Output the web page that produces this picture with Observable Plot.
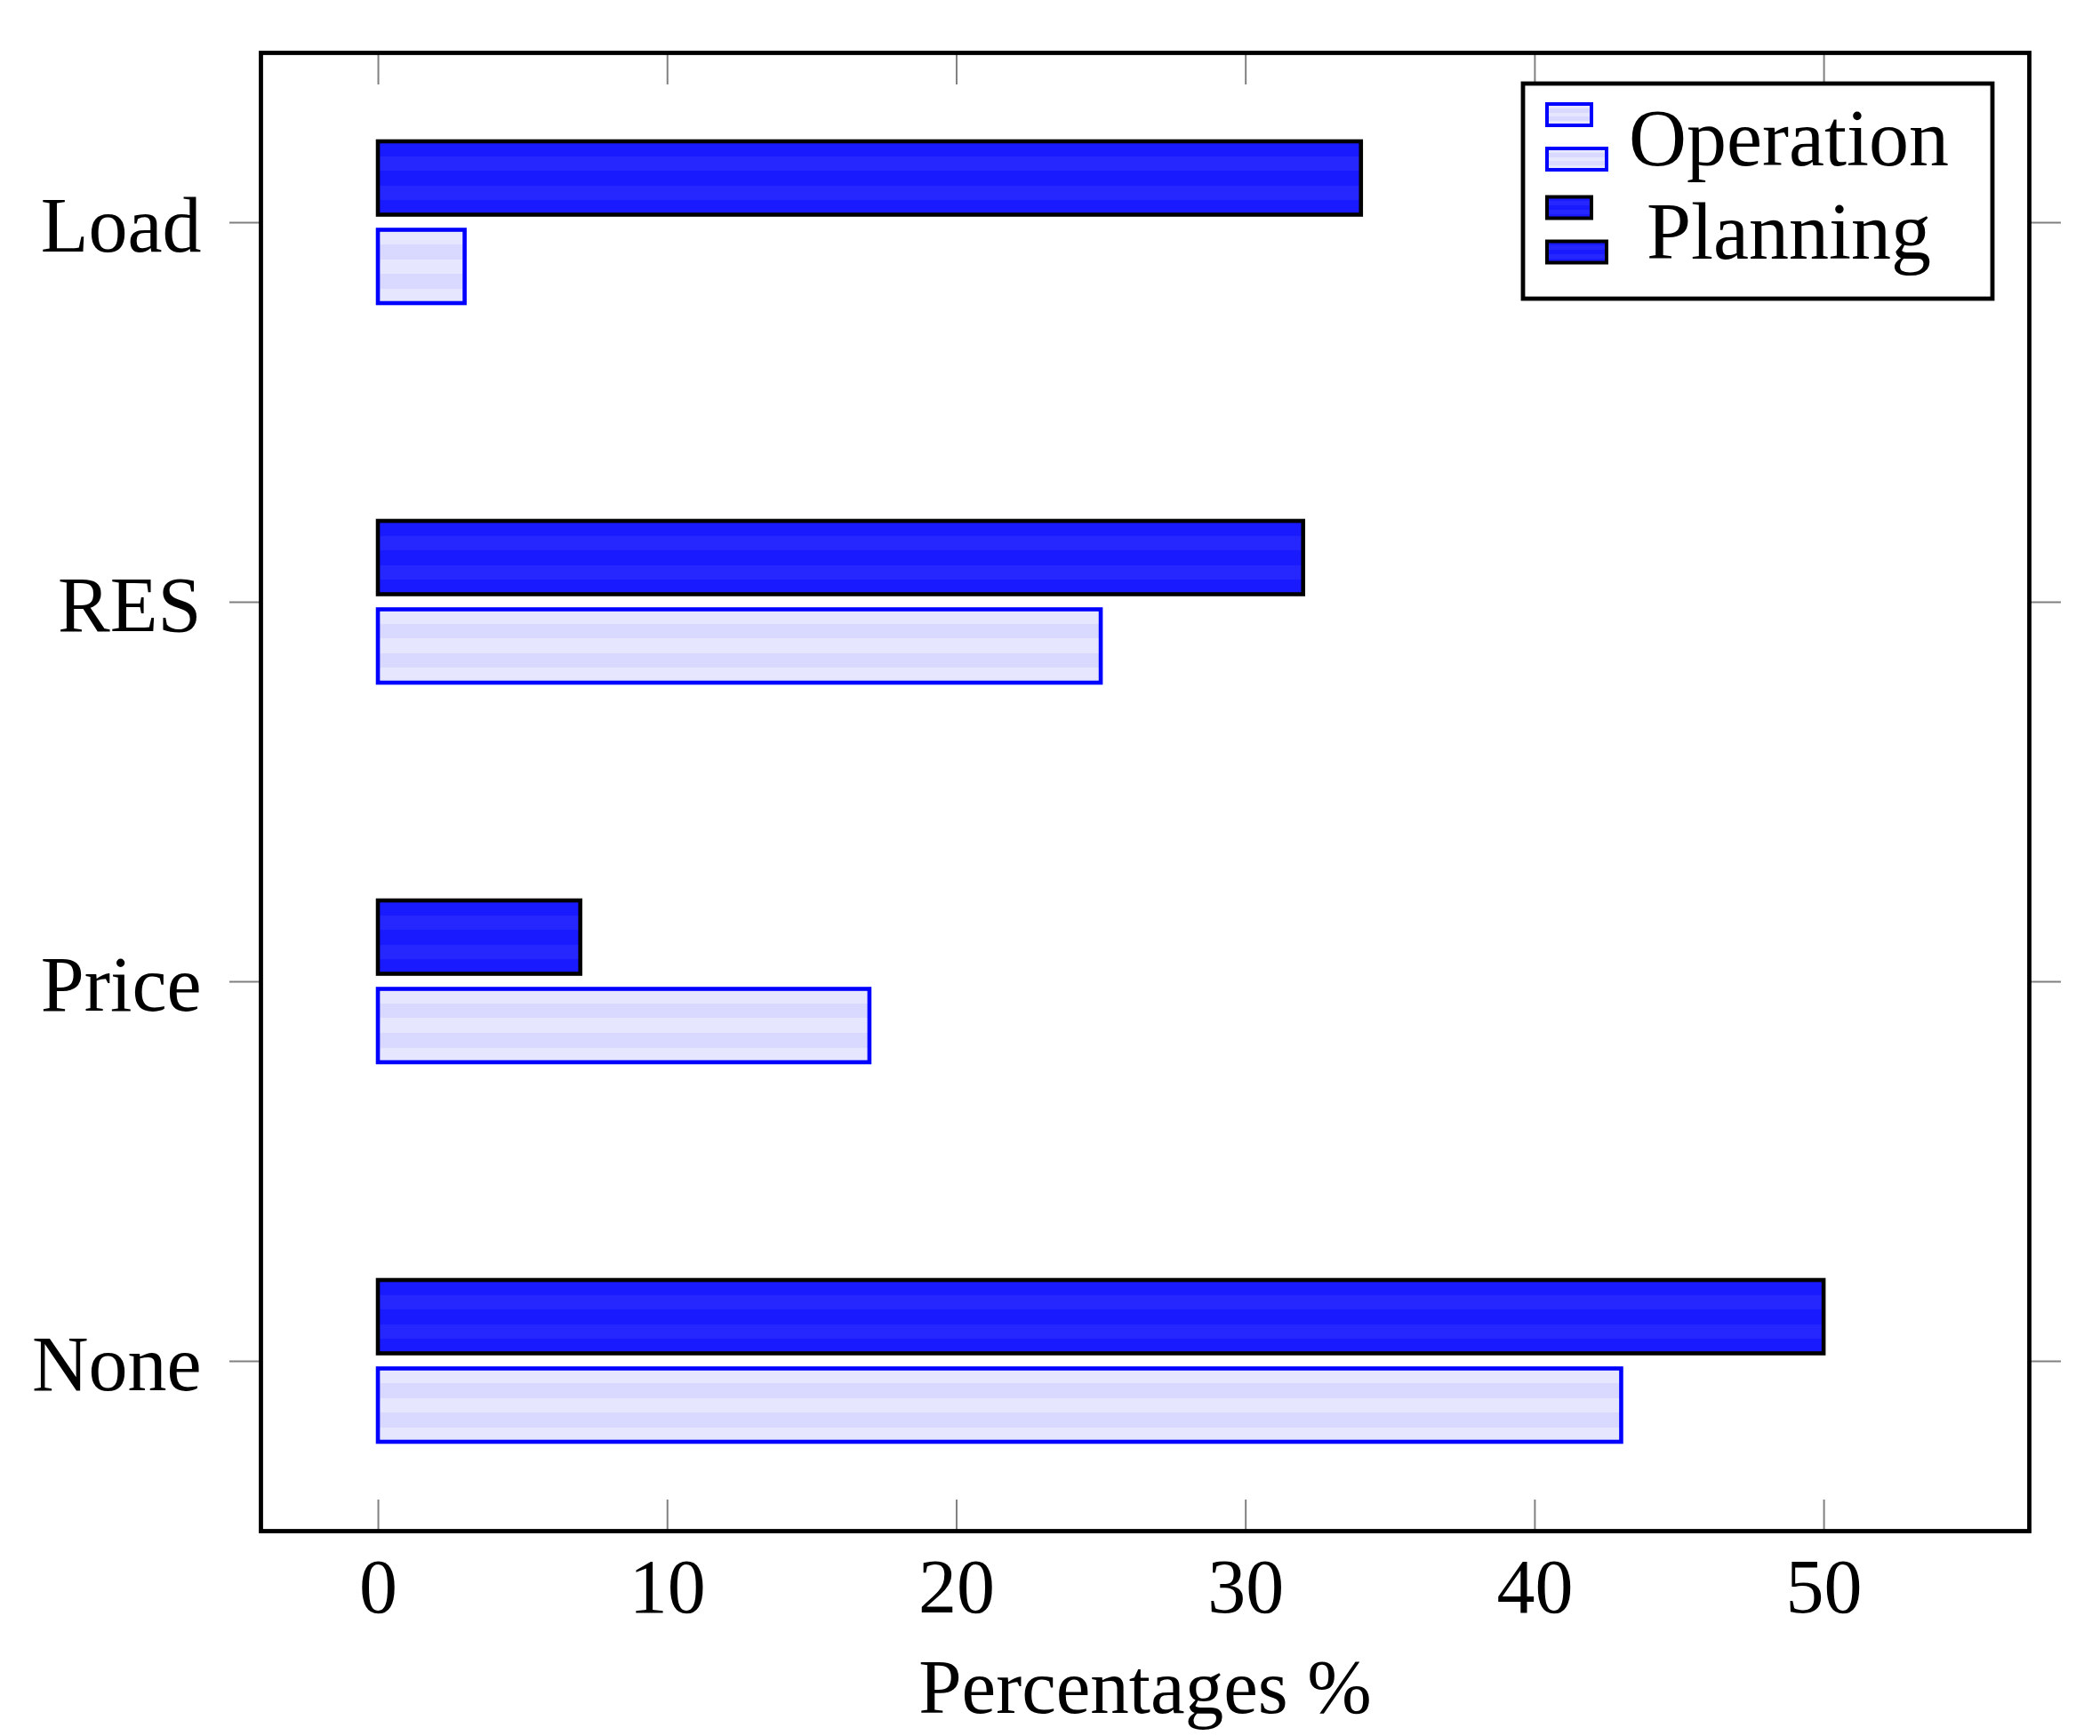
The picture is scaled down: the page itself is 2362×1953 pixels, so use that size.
<!DOCTYPE html>
<html>
<head>
<meta charset="utf-8">
<script src="https://cdn.jsdelivr.net/npm/d3@7"></script>
<script src="https://cdn.jsdelivr.net/npm/@observablehq/plot@0.6"></script>
<style>
  html, body { margin: 0; padding: 0; background: white; }
  #chart { position: relative; width: 2362px; height: 1953px; }
</style>
</head>
<body>
<div id="chart"></div>
<script>
// ---- data ----
const categories = ["Load", "RES", "Price", "None"];
const planning = [34, 32, 7, 50];
const operation = [3, 25, 17, 43];
const xTicks = [0, 10, 20, 30, 40, 50];
const seriesNames = ["Operation", "Planning"];
const xLabel = "Percentages %";

const rows = categories.map((c, i) => ({category: c, planning: planning[i], operation: operation[i]}));

const FONT = "'Liberation Serif', 'DejaVu Serif', serif";
const TICK = "#808080";

const chart = Plot.plot({
  width: 2362,
  height: 1953,
  marginLeft: 293,
  marginRight: 80,
  marginTop: 59,
  marginBottom: 231,
  style: {fontFamily: FONT, fontSize: "86px", background: "white", color: "black"},
  x: {domain: [-4.06, 57.1], ticks: xTicks},
  y: {type: "band", domain: categories, paddingInner: 0.574, paddingOuter: 0.234, align: 0.5},
  marks: [
    Plot.barX(rows, {x: "planning", y: "category", insetBottom: 99.5, fill: "url(#planFill)", stroke: "black", strokeWidth: 4.6}),
    Plot.barX(rows, {x: "operation", y: "category", insetTop: 99.5, fill: "url(#opFill)", stroke: "#0000ff", strokeWidth: 4.6}),
    Plot.axisX(xTicks, {anchor: "top", tickSize: -35, text: null, label: null, stroke: TICK, strokeWidth: 2}),
    Plot.axisX(xTicks, {anchor: "bottom", tickSize: -35, text: null, label: null, stroke: TICK, strokeWidth: 2}),
    Plot.axisX(xTicks, {anchor: "bottom", tickSize: 0, tickPadding: 30, label: null, fill: "black", fontSize: 86}),
    Plot.axisY({anchor: "left", tickSize: 35, text: null, label: null, stroke: TICK, strokeWidth: 2}),
    Plot.axisY({anchor: "right", tickSize: 35, text: null, label: null, stroke: TICK, strokeWidth: 2}),
    Plot.axisY({anchor: "left", tickSize: 0, tickPadding: 67, dy: 4, label: null, fill: "black", fontSize: 88}),
    Plot.frame({stroke: "black", strokeWidth: 4.8}),
    Plot.text([xLabel], {frameAnchor: "bottom", dy: 143, lineAnchor: "top", text: d => d, fontSize: 87, fill: "black"})
  ]
});

document.getElementById("chart").appendChild(chart);

// ---- gradient fills imitating the striped shading ----
const svg = d3.select(chart);
const defs = svg.insert("defs", ":first-child");
function stripes(id, a, b) {
  const g = defs.append("linearGradient").attr("id", id)
    .attr("x1", 0).attr("y1", 0).attr("x2", 0).attr("y2", 1);
  const cols = [a, b, a, b, a];
  cols.forEach((c, i) => {
    g.append("stop").attr("offset", i / 5).attr("stop-color", c);
    g.append("stop").attr("offset", (i + 1) / 5).attr("stop-color", c);
  });
}
stripes("planFill", "#1a1aff", "#2626ff");
stripes("opFill", "#e6e6ff", "#d9d9ff");

// ---- legend ----
const lg = svg.append("g").attr("class", "legend");
lg.append("rect").attr("x", 1713).attr("y", 94).attr("width", 528).attr("height", 242)
  .attr("fill", "white").attr("stroke", "black").attr("stroke-width", 4.8);
const legendStyles = {
  Operation: {fill: "url(#opFill)", stroke: "#0000ff"},
  Planning: {fill: "url(#planFill)", stroke: "black"}
};
seriesNames.forEach((name, i) => {
  const top = 117 + i * 104.5;
  const st = legendStyles[name];
  lg.append("rect").attr("x", 1740).attr("y", top).attr("width", 50).attr("height", 24)
    .attr("fill", st.fill).attr("stroke", st.stroke).attr("stroke-width", 4);
  lg.append("rect").attr("x", 1740).attr("y", top + 50).attr("width", 67).attr("height", 24)
    .attr("fill", st.fill).attr("stroke", st.stroke).attr("stroke-width", 4);
  lg.append("text").attr("x", 2012).attr("y", top + 69).attr("text-anchor", "middle")
    .attr("font-family", FONT).attr("font-size", 90).attr("fill", "black").text(name);
});
</script>
</body>
</html>
